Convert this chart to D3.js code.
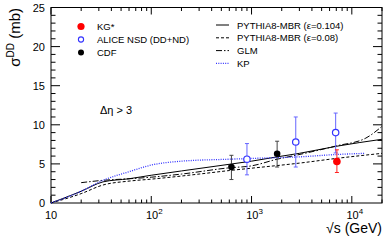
<!DOCTYPE html>
<html>
<head>
<meta charset="utf-8">
<script src="https://cdn.jsdelivr.net/npm/d3@7"></script>
<style>
  body { margin: 0; background: #fff; }
  svg { font-family: "Liberation Sans", Arial, sans-serif; }
</style>
</head>
<body>
<div id="chart"></div>
<script>
// model curves: sqrt(s) in GeV, sigma_DD in mb
var pythia104X = [10, 20, 33, 60, 100, 200, 600, 1000, 1800, 3000, 7000, 20000];
var pythia104Y = [0, 1.5, 2.7, 3.1, 3.55, 4.1, 4.95, 5.35, 5.9, 6.35, 7.25, 8.15];
var pythia08X = [10, 20, 33, 60, 100, 300, 600, 1000, 3000, 7000, 20000];
var pythia08Y = [0, 1.2, 2.3, 2.8, 3.05, 3.7, 4.15, 4.45, 5.1, 5.7, 6.35];
var glmX = [20, 33, 60, 100, 200, 600, 1000, 1800, 2760, 7000, 13800, 20000];
var glmY = [2.6, 2.9, 3.1, 3.3, 3.7, 4.5, 4.75, 5.6, 6.1, 7.3, 8.3, 9.8];
var kpX = [10, 20, 33, 60, 100, 200, 600, 1000, 3000, 7000, 13500];
var kpY = [0, 1.5, 2.9, 4.0, 4.85, 5.35, 5.6, 5.7, 5.9, 6.2, 6.35];

// measurements: energy, value, error down, error up
var kgX = [7100], kgY = [5.3], kgLo = [1.4], kgHi = [1.5];
var aliceX = [900, 2760, 6900], aliceY = [5.6, 7.8, 9.0], aliceLo = [2.0, 3.2, 2.6], aliceHi = [2.0, 3.2, 2.5];
var cdfX = [630, 1800], cdfY = [4.6, 6.3], cdfLo = [1.6, 1.7], cdfHi = [1.5, 1.6];

var xMajor = [10, 100, 1000, 10000];
var xLabelExp = ['', '2', '3', '4'];
var yMajor = [0, 5, 10, 15, 20, 25];

var width = 390, height = 241;
var padLeft = 51, padRight = 382, padTop = 7.5, padBottom = 203;

var svg = d3.select('#chart').append('svg').attr('width', width).attr('height', height);

var x = d3.scaleLog().domain([10, 20000]).range([padLeft, padRight]);
var y = d3.scaleLinear().domain([0, 25]).range([padBottom, padTop]);

// frame
svg.append('rect').attr('x', padLeft).attr('y', padTop).attr('width', padRight - padLeft).attr('height', padBottom - padTop)
  .style('fill', 'none').style('stroke', '#000').style('stroke-width', 1);

// x ticks (bottom + top)
var xMinor = [];
for (var d = 10; d < 20000; d *= 10) {
  for (var k = 2; k <= 9; k++) { if (d * k <= 20000) xMinor.push(d * k); }
}
xMinor.forEach(function(v){
  svg.append('line').attr('x1', x(v)).attr('x2', x(v)).attr('y1', padBottom).attr('y2', padBottom - 3.5).style('stroke', '#000');
  svg.append('line').attr('x1', x(v)).attr('x2', x(v)).attr('y1', padTop).attr('y2', padTop + 3.5).style('stroke', '#000');
});
xMajor.forEach(function(v, i){
  svg.append('line').attr('x1', x(v)).attr('x2', x(v)).attr('y1', padBottom).attr('y2', padBottom - 7).style('stroke', '#000');
  svg.append('line').attr('x1', x(v)).attr('x2', x(v)).attr('y1', padTop).attr('y2', padTop + 7).style('stroke', '#000');
  var t = svg.append('text').attr('x', x(v) + (i ? 3 : 0)).attr('y', 219).attr('text-anchor', 'middle')
    .style('font-size', '11px').text('10');
  if (xLabelExp[i]) t.append('tspan').attr('dy', -5).style('font-size', '8px').text(xLabelExp[i]);
});

// y ticks (left + right)
for (var v = 1; v < 25; v++) {
  var len = v % 5 === 0 ? 9 : 4.5;
  svg.append('line').attr('x1', padLeft).attr('x2', padLeft + len).attr('y1', y(v)).attr('y2', y(v)).style('stroke', '#000');
  svg.append('line').attr('x1', padRight).attr('x2', padRight - len).attr('y1', y(v)).attr('y2', y(v)).style('stroke', '#000');
}
yMajor.forEach(function(v){
  svg.append('text').attr('x', 45).attr('y', y(v) + 4).attr('text-anchor', 'end')
    .style('font-size', '11px').text(v);
});

// axis titles
svg.append('text').attr('x', padRight).attr('y', 233).attr('text-anchor', 'end')
  .style('font-size', '14px').text('\u221As (GeV)');
var yt = svg.append('text').attr('transform', 'translate(20,8) rotate(-90)').attr('text-anchor', 'end')
  .style('font-size', '15px');
yt.append('tspan').text('\u03C3');
yt.append('tspan').attr('dy', -6).style('font-size', '10px').text('DD');
yt.append('tspan').attr('dy', 6).text(' (mb)');

// curves
var line = d3.line().x(function(d){ return x(d[0]); }).y(function(d){ return y(d[1]); }).curve(d3.curveMonotoneX);
var curves = [
  { xs: pythia104X, ys: pythia104Y, color: '#000', dash: null, w: 1 },
  { xs: pythia08X, ys: pythia08Y, color: '#000', dash: '3,2', w: 1 },
  { xs: glmX, ys: glmY, color: '#000', dash: '6,2,1.5,2', w: 1 },
  { xs: kpX, ys: kpY, color: '#3333ff', dash: '1,1.3', w: 1.3 }
];
curves.forEach(function(c){
  svg.append('path').datum(d3.zip(c.xs, c.ys)).attr('d', line)
    .style('fill', 'none').style('stroke', c.color).style('stroke-width', c.w)
    .style('stroke-dasharray', c.dash);
});

// data points with error bars
var drawPoints = function(xs, ys, lo, hi, color, barColor, r, open){
  xs.forEach(function(v, i){
    var cx = x(v);
    svg.append('line').attr('x1', cx).attr('x2', cx).attr('y1', y(ys[i] - lo[i])).attr('y2', y(ys[i] + hi[i]))
      .style('stroke', barColor).style('stroke-width', 1);
    [ys[i] - lo[i], ys[i] + hi[i]].forEach(function(e){
      svg.append('line').attr('x1', cx - 2).attr('x2', cx + 2).attr('y1', y(e)).attr('y2', y(e))
        .style('stroke', barColor).style('stroke-width', 1);
    });
    svg.append('circle').attr('cx', cx).attr('cy', y(ys[i])).attr('r', r)
      .style('fill', open ? '#fff' : color).style('stroke', color).style('stroke-width', open ? 1.2 : 0);
  });
};
drawPoints(cdfX, cdfY, cdfLo, cdfHi, '#000', '#444', 3.3, false);
drawPoints(aliceX, aliceY, aliceLo, aliceHi, '#3333ff', '#6666ff', 3.2, true);
drawPoints(kgX, kgY, kgLo, kgHi, '#ff0000', '#ff2222', 3.8, false);

// left legend
var legL = [
  { label: 'KG*', color: '#ff0000', open: false, r: 3.6 },
  { label: 'ALICE NSD (DD+ND)', color: '#3333ff', open: true, r: 2.6 },
  { label: 'CDF', color: '#000', open: false, r: 3 }
];
legL.forEach(function(l, i){
  var ly = 26.5 + i * 13;
  svg.append('circle').attr('cx', 81).attr('cy', ly).attr('r', l.r)
    .style('fill', l.open ? '#fff' : l.color).style('stroke', l.color).style('stroke-width', l.open ? 1.1 : 0);
  svg.append('text').attr('x', 97).attr('y', ly + 3.5).style('font-size', '9.5px').text(l.label);
});

// right legend
var legR = ['PYTHIA8-MBR (\u03B5=0.104)', 'PYTHIA8-MBR (\u03B5=0.08)', 'GLM', 'KP'];
legR.forEach(function(lab, i){
  var ly = 25 + i * 12.8;
  var c = curves[i];
  svg.append('line').attr('x1', 216).attr('x2', 229).attr('y1', ly).attr('y2', ly)
    .style('stroke', c.color).style('stroke-width', c.w).style('stroke-dasharray', c.dash);
  svg.append('text').attr('x', 237).attr('y', ly + 3.5).style('font-size', '9.5px').text(lab);
});

svg.append('text').attr('x', 100).attr('y', 114).style('font-size', '11px').text('\u0394\u03B7 > 3');
</script>
</body>
</html>
